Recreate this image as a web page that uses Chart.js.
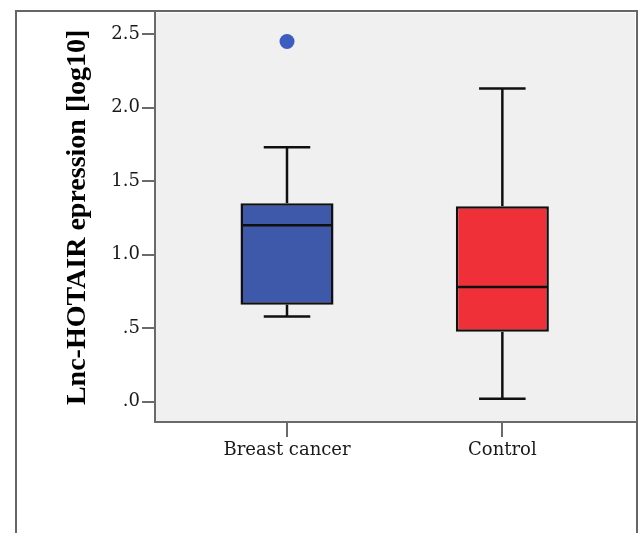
<!DOCTYPE html>
<html>
<head>
<meta charset="utf-8">
<title>Lnc-HOTAIR expression</title>
<script src="https://cdn.jsdelivr.net/npm/chart.js@4/dist/chart.umd.min.js"></script>
<style>
  html, body { margin: 0; padding: 0; background: #fff; overflow: hidden; }
  #wrap { position: relative; width: 643px; height: 533px; }
  #frame {
    position: absolute; left: 15px; top: 10px; width: 619px; height: 600px;
    border: 2px solid #666; border-bottom: none; pointer-events: none;
  }
</style>
</head>
<body>
<div id="wrap">
  <canvas id="box-chart" width="643" height="533"></canvas>
  <div id="frame"></div>
</div>
<script>
"use strict";

// Box-plot summary per group (log10 expression).
const CATEGORIES = ["Breast cancer", "Control"];
const X_POS = [1, 2];
const WHISKER_LOW = [0.58, 0.02];
const Q1 = [0.66, 0.475];
const MEDIAN = [1.20, 0.78];
const Q3 = [1.35, 1.33];
const WHISKER_HIGH = [1.73, 2.13];
const OUTLIERS = [[2.45], []];

const Y_TICKS = [0, 0.5, 1, 1.5, 2, 2.5];
const Y_TICK_LABELS = [".0", ".5", "1.0", "1.5", "2.0", "2.5"];

const BOX_COLORS = ["#3e58aa", "#ef3039"];
const OUTLIER_COLOR = "#3d5cc0";
const INK = "#101010";
const AXIS = "#6a6a6a";

// --- Plugins --------------------------------------------------------------- //
const plotBackground = {
  id: "plotBackground",
  beforeDraw(chart) {
    const { ctx, chartArea: a } = chart;
    ctx.save();
    ctx.fillStyle = "#f0f0f0";
    ctx.fillRect(a.left, a.top, a.right - a.left, a.bottom - a.top);
    ctx.restore();
  },
};

// Whiskers, caps and medians, placed through the chart's own scales.
const boxParts = {
  id: "boxParts",
  afterDatasetsDraw(chart) {
    const { ctx, scales } = chart;
    const bars = chart.getDatasetMeta(0).data;
    const x = scales.x, y = scales.y;
    ctx.save();
    ctx.strokeStyle = INK;
    ctx.lineWidth = 2.5;
    ctx.lineCap = "butt";
    X_POS.forEach((xv, i) => {
      const cx = x.getPixelForValue(xv);
      const half = bars[i].width / 2;
      const cap = half / 2;
      const seg = (x0, y0, x1, y1) => {
        ctx.beginPath();
        ctx.moveTo(x0, y0);
        ctx.lineTo(x1, y1);
        ctx.stroke();
      };
      const hi = y.getPixelForValue(WHISKER_HIGH[i]);
      const lo = y.getPixelForValue(WHISKER_LOW[i]);
      seg(cx, hi, cx, y.getPixelForValue(Q3[i]));
      seg(cx, y.getPixelForValue(Q1[i]), cx, lo);
      seg(cx - cap, hi, cx + cap, hi);
      seg(cx - cap, lo, cx + cap, lo);
      const md = y.getPixelForValue(MEDIAN[i]);
      seg(cx - half + 1, md, cx + half - 1, md);
    });
    ctx.restore();
  },
};

// --- Chart ----------------------------------------------------------------- //
const outlierPoints = [];
OUTLIERS.forEach((vals, i) => vals.forEach((v) => outlierPoints.push({ x: X_POS[i], y: v })));

new Chart(document.getElementById("box-chart"), {
  type: "bar",
  data: {
    datasets: [
      {
        data: Q1.map((q, i) => ({ x: X_POS[i], y: [q, Q3[i]] })),
        backgroundColor: BOX_COLORS,
        borderColor: INK,
        borderWidth: 2.5,
        borderSkipped: false,
        categoryPercentage: 1,
        barPercentage: 0.432,
      },
      {
        type: "scatter",
        data: outlierPoints,
        backgroundColor: OUTLIER_COLOR,
        borderWidth: 0,
        pointRadius: 7.5,
      },
    ],
  },
  options: {
    responsive: false,
    animation: false,
    events: [],
    layout: { padding: { left: 0, top: 12, right: 8, bottom: 51 } },
    plugins: { legend: { display: false }, tooltip: { enabled: false } },
    scales: {
      x: {
        type: "linear",
        min: 0.387,
        max: 2.616,
        offset: false,
        afterFit: (s) => { s.height = 60; },
        afterBuildTicks: (s) => { s.ticks = X_POS.map((v) => ({ value: v })); },
        border: { display: true, color: AXIS, width: 2 },
        grid: { offset: false, drawOnChartArea: false, drawTicks: true, tickLength: 15, color: AXIS, lineWidth: 2 },
        ticks: {
          padding: 3,
          color: "#1a1a1a",
          font: { family: "'DejaVu Serif', serif", size: 18 },
          callback: (v) => CATEGORIES[X_POS.indexOf(v)] || "",
        },
      },
      y: {
        type: "linear",
        min: -0.138,
        max: 2.645,
        afterFit: (s) => { s.width = 155; },
        afterBuildTicks: (s) => { s.ticks = Y_TICKS.map((v) => ({ value: v })); },
        border: { display: true, color: AXIS, width: 2 },
        grid: { drawOnChartArea: false, drawTicks: true, tickLength: 13, color: AXIS, lineWidth: 2 },
        ticks: {
          padding: 2,
          color: "#1a1a1a",
          font: { family: "'DejaVu Serif', serif", size: 18 },
          callback: (v) => Y_TICK_LABELS[Y_TICKS.indexOf(v)] ?? "",
        },
        title: {
          display: true,
          text: "Lnc-HOTAIR epression [log10]",
          color: "#000",
          font: { family: "'Liberation Serif', serif", size: 28, weight: "bold" },
          padding: { top: 61, bottom: 0 },
        },
      },
    },
  },
  plugins: [plotBackground, boxParts],
});
</script>
</body>
</html>
